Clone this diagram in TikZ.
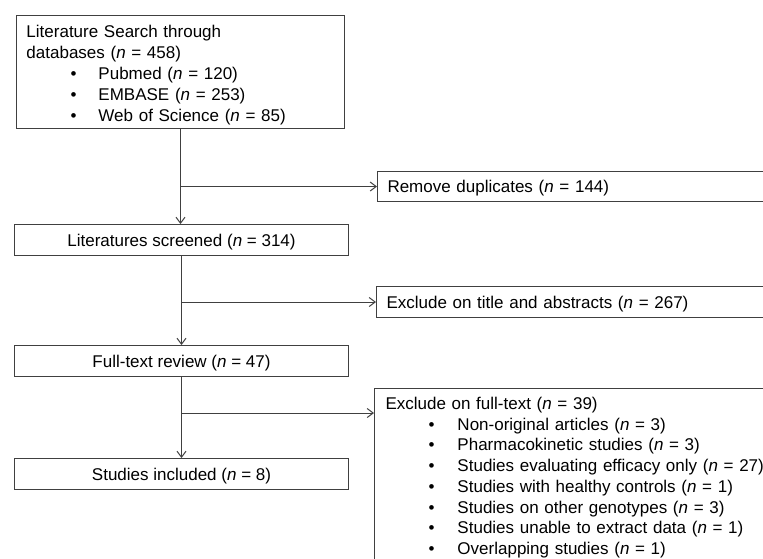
\documentclass[tikz,border=0pt]{standalone}
\usepackage{fontspec}
\setmainfont{Liberation Sans}
\usetikzlibrary{arrows.meta}
\definecolor{ln}{HTML}{404040}
\newcommand\nn{\textit{n}}
\begin{document}
\begin{tikzpicture}[x=1pt,y=-1pt,
  box/.style={draw=ln, line width=1pt, inner xsep=0pt, inner ysep=0pt, text=black,
    font=\fontsize{17}{21}\selectfont},
  midbox/.style={box, anchor=north west, minimum width=334pt, minimum height=31pt,
    text height=12.2pt, text depth=0pt},
  sidebox/.style={box, anchor=north west, text width=380pt, inner xsep=10pt, align=left,
    text height=12.2pt, text depth=0pt},
  flow/.style={draw=ln, line width=1pt, -{Straight Barb[length=6pt,width=9pt]}}]
\useasboundingbox (0,0) rectangle (763,558);
\fill[white] (0,0) rectangle (763,558);
\clip (0,0) rectangle (763,558);

\node[box, anchor=north west, inner xsep=10pt, text width=308pt, align=left,
      text height=22pt, text depth=91pt] (search) at (16,15)
  {\begin{tabular}[t]{@{}l@{}}
   Literature Search through\\
   databases (\nn{} = 458)\\
   \hspace*{44pt}\makebox[28pt][l]{\textbullet}Pubmed (\nn{} = 120)\\
   \hspace*{44pt}\makebox[28pt][l]{\textbullet}EMBASE (\nn{} = 253)\\
   \hspace*{44pt}\makebox[28pt][l]{\textbullet}Web of Science (\nn{} = 85)
   \end{tabular}};

\node[midbox] (screened) at (14,224) {Literatures screened (\nn{} = 314)};
\node[midbox] (fulltext) at (14,345) {Full-text review (\nn{} = 47)};
\node[midbox] (included) at (14,458) {Studies included (\nn{} = 8)};

\node[sidebox, minimum height=30pt] (dup) at (377,171) {Remove duplicates (\nn{} = 144)};
\node[sidebox, minimum height=31pt] (excltitle) at (376,286) {Exclude on title and abstracts (\nn{} = 267)};

\node[box, anchor=north west, inner xsep=11pt, text width=380pt, align=left,
      text height=21pt, text depth=170pt, font=\fontsize{17}{20.7}\selectfont] (exclfull) at (374,388)
  {\begin{tabular}[t]{@{}l@{}}
   Exclude on full-text (\nn{} = 39)\\
   \hspace*{43pt}\makebox[29pt][l]{\textbullet}Non-original articles (\nn{} = 3)\\
   \hspace*{43pt}\makebox[29pt][l]{\textbullet}Pharmacokinetic studies (\nn{} = 3)\\
   \hspace*{43pt}\makebox[29pt][l]{\textbullet}Studies evaluating efficacy only (\nn{} = 27)\\
   \hspace*{43pt}\makebox[29pt][l]{\textbullet}Studies with healthy controls (\nn{} = 1)\\
   \hspace*{43pt}\makebox[29pt][l]{\textbullet}Studies on other genotypes (\nn{} = 3)\\
   \hspace*{43pt}\makebox[29pt][l]{\textbullet}Studies unable to extract data (\nn{} = 1)\\
   \hspace*{43pt}\makebox[29pt][l]{\textbullet}Overlapping studies (\nn{} = 1)
   \end{tabular}};

\coordinate (fx) at ([yshift=-25pt]exclfull.north west);

\draw[flow] (search.south) -- (search.south |- screened.north);
\draw[flow] (search.south |- dup.west) -- (dup.west);
\draw[flow] (screened.south) -- (fulltext.north);
\draw[flow] (screened.south |- excltitle.west) -- (excltitle.west);
\draw[flow] (fulltext.south) -- (included.north);
\draw[flow] (fulltext.south |- fx) -- (fx);
\end{tikzpicture}
\end{document}
